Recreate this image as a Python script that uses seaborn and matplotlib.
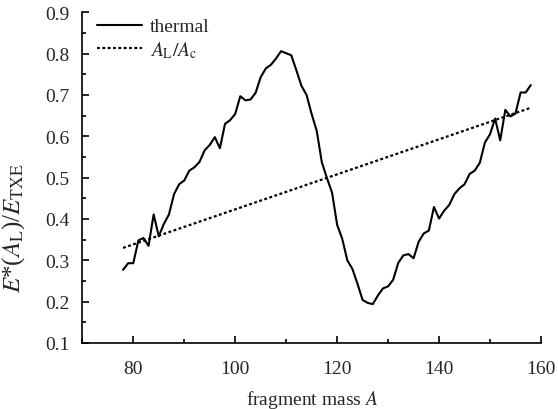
import matplotlib
matplotlib.use("Agg")
import matplotlib.pyplot as plt
import seaborn as sns
import pandas as pd
from matplotlib.ticker import MultipleLocator

# Data
mass_A = list(range(78, 159))
thermal = [0.277, 0.293, 0.293, 0.348, 0.354, 0.335, 0.411, 0.358, 0.388, 0.411,
           0.460, 0.484, 0.493, 0.517, 0.525, 0.538, 0.566, 0.579, 0.598, 0.571,
           0.630, 0.639, 0.654, 0.697, 0.687, 0.689, 0.705, 0.743, 0.764, 0.773,
           0.788, 0.806, 0.801, 0.796, 0.760, 0.722, 0.700, 0.654, 0.613, 0.537,
           0.499, 0.464, 0.386, 0.352, 0.300, 0.279, 0.243, 0.204, 0.197, 0.194,
           0.215, 0.232, 0.237, 0.253, 0.294, 0.312, 0.315, 0.305, 0.345, 0.365,
           0.372, 0.429, 0.401, 0.420, 0.434, 0.460, 0.474, 0.484, 0.509, 0.517,
           0.536, 0.585, 0.605, 0.643, 0.590, 0.664, 0.648, 0.655, 0.706, 0.706,
           0.724]
ratio_A = [78, 158]
ratio = [0.330, 0.669]

sns.set_theme(style="ticks")
plt.rcParams['font.family'] = ['Liberation Serif', 'DejaVu Serif']
plt.rcParams['mathtext.fontset'] = 'stix'

fig = plt.figure(figsize=(5.58, 4.10), dpi=100)
ax = fig.add_axes([0.1475, 0.161, 0.822, 0.8066])

df1 = pd.DataFrame({"A": mass_A, "v": thermal})
df2 = pd.DataFrame({"A": ratio_A, "v": ratio})
sns.lineplot(data=df1, x="A", y="v", ax=ax, color="black", lw=1.5, label="thermal")
sns.lineplot(data=df2, x="A", y="v", ax=ax, color="black", lw=1.6,
             linestyle=(0, (1.3, 1.1)), label=r"$A_{\rm L}/A_{\rm c}$")

ax.set_xlim(70, 160)
ax.set_ylim(0.1, 0.9)
ax.xaxis.set_major_locator(MultipleLocator(20))
ax.xaxis.set_minor_locator(MultipleLocator(10))
ax.yaxis.set_major_locator(MultipleLocator(0.1))
ax.yaxis.set_minor_locator(MultipleLocator(0.05))
ax.yaxis.set_major_formatter(matplotlib.ticker.FormatStrFormatter('%.1f'))

for s in ["top", "right"]:
    ax.spines[s].set_visible(False)
for s in ["left", "bottom"]:
    ax.spines[s].set_linewidth(1.2)
    ax.spines[s].set_color("black")

ax.tick_params(which="both", direction="in", color="black", width=1.2)
ax.tick_params(which="major", length=5, labelsize=14)
ax.tick_params(which="minor", length=3)
ax.tick_params(axis="x", which="major", pad=12)
ax.tick_params(axis="y", which="major", pad=9)

ax.set_xlabel(r"fragment mass $A$", fontsize=14)
ax.set_ylabel(r"$E$*($A_{\rm L}$)/$E_{\rm TXE}$", fontsize=18)
ax.xaxis.set_label_coords(0.5, -0.137)
ax.yaxis.set_label_coords(-0.12, 0.35)

leg = ax.legend(loc="upper left", frameon=False, fontsize=14,
                handlelength=2.3, handletextpad=0.4, labelspacing=0.2,
                borderaxespad=0.0, bbox_to_anchor=(0.016, 1.007))

fig.savefig("out.png", dpi=100)
